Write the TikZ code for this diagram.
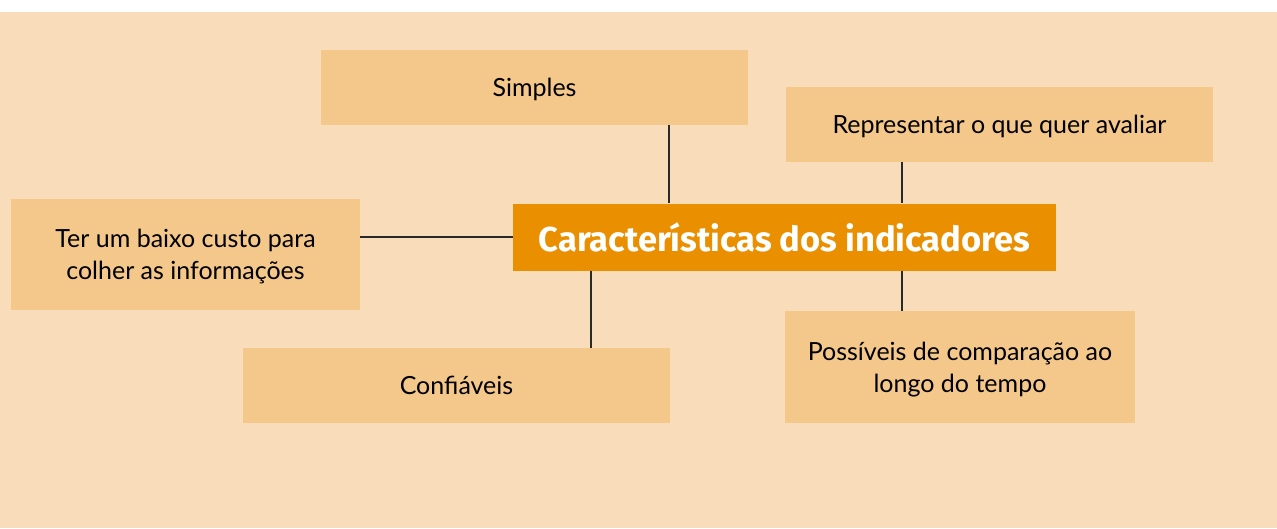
\documentclass[tikz,border=0pt]{standalone}
\usepackage{fontspec}
\setmainfont{Lato}
\newfontfamily\titlefont{Fira Sans}
\definecolor{bgpeach}{HTML}{F9DDBB}
\definecolor{boxfill}{HTML}{F4C78B}
\definecolor{centerfill}{HTML}{EA9000}
\definecolor{linecol}{HTML}{2A2A2A}
\tikzset{
  leaf/.style={fill=boxfill, draw=none, inner sep=0pt, align=center,
    font=\fontsize{25}{32}\selectfont, text=black, text depth=0pt},
  hub/.style={fill=centerfill, draw=none, inner sep=0pt, align=center,
    font=\titlefont\bfseries\fontsize{34.5}{40}\selectfont, text=white},
  link/.style={draw=linecol, line width=1.2pt}
}
\begin{document}
\begin{tikzpicture}[x=1pt,y=-1pt]
\useasboundingbox (0,0) rectangle (1277,528);
\fill[white] (0,0) rectangle (1277,528);
\fill[bgpeach] (0,12) rectangle (1277,528);
% nodes
\node[hub, minimum width=543pt, minimum height=67pt] (c) at (784.5,237) {Características dos indicadores};
\node[leaf, minimum width=427pt, minimum height=75pt] (simples) at (534.5,87.5) {Simples};
\node[leaf, minimum width=427pt, minimum height=75pt] (repr) at (999.5,124.5) {Representar o que quer avaliar};
\node[leaf, minimum width=349pt, minimum height=111pt] (custo) at (185.5,254.5) {Ter um baixo custo para\\colher as informações};
\node[leaf, minimum width=427pt, minimum height=75pt] (conf) at (456.5,385.5) {Confiáveis};
\node[leaf, minimum width=350pt, minimum height=112pt] (poss) at (960,367) {Possíveis de comparação ao\\longo do tempo};
% connectors
\coordinate (c1) at (669,0);
\coordinate (c2) at (902,0);
\coordinate (c3) at (591,0);
\draw[link] (simples.south -| c1) -- (c.north -| c1);
\draw[link] (repr.south -| c2) -- (c.north -| c2);
\draw[link] (c.west -| custo.east) -- (c.west);
\draw[link] (c.south -| c3) -- (conf.north -| c3);
\draw[link] (c.south -| c2) -- (poss.north -| c2);
\end{tikzpicture}
\end{document}
